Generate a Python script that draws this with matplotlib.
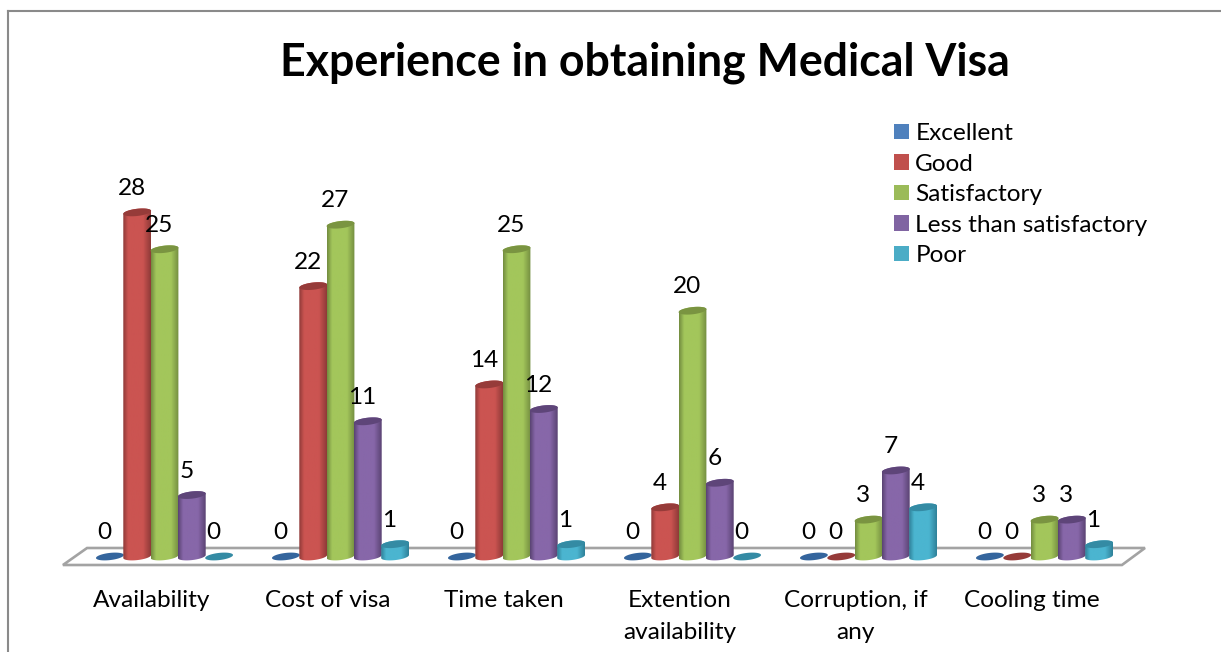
#!/usr/bin/env python3
"""Experience in obtaining Medical Visa, drawn as fake 3D cylinders."""

import matplotlib

matplotlib.use("Agg")
import matplotlib.pyplot as plt
import numpy as np
from matplotlib.colors import LinearSegmentedColormap
from matplotlib.lines import Line2D
from matplotlib.patches import Patch, PathPatch, Polygon
from matplotlib.path import Path

categories = [
    "Availability",
    "Cost of visa",
    "Time taken",
    "Extention\navailability",
    "Corruption, if\nany",
    "Cooling time",
]
series_names = ["Excellent", "Good", "Satisfactory", "Less than satisfactory", "Poor"]
excellent = [0, 0, 0, 0, 0, 0]
good = [28, 22, 14, 4, 0, 0]
satisfactory = [25, 27, 25, 20, 3, 3]
less_than = [5, 11, 12, 6, 7, 3]
poor = [0, 1, 1, 0, 4, 1]
all_series = [excellent, good, satisfactory, less_than, poor]

swatch_colors = ["#4f81bd", "#c0504d", "#9bbb59", "#8064a2", "#4bacc6"]
edge_colors = ["#2f5f93", "#8f3a38", "#738d40", "#5a4373", "#2f8199"]
body_colors = ["#4f81bd", "#cb5451", "#a3c65b", "#8767a9", "#4bb5d0"]
top_colors = ["#34659d", "#963b39", "#7a9441", "#5e4579", "#348ba4"]

W, H = 1221, 652
PX_X = 176.0  # pixels per category
PX_Y = 12.29  # pixels per unit of value
X0, Y0 = 164.5, 556.5  # pixel position of category 0, value 0
AX_TOP, AX_BOTTOM = 110, 575
TEXT_SIZE = 17.6


def cylinder_outline(cx, half_w, value, half_h, tilt):
    t = np.linspace(0, np.pi, 40)
    # lower half of the base, left to right, then upper half of the top, right to left
    x_low = cx - half_w * np.cos(t)
    y_low = -half_h * np.sin(t) - tilt * np.cos(t)
    x_up = cx + half_w * np.cos(t)
    y_up = value + half_h * np.sin(t) + tilt * np.cos(t)
    return np.r_[x_low, x_up], np.r_[y_low, y_up]


def ellipse_outline(cx, half_w, value, half_h, tilt):
    t = np.linspace(0, 2 * np.pi, 80)
    return cx + half_w * np.cos(t), value + half_h * np.sin(t) + tilt * np.cos(t)


def main():
    fig = plt.figure(figsize=(W / 100, H / 100), dpi=100)
    plt.rcParams["font.family"] = ["Lato", "DejaVu Sans"]
    ax = fig.add_axes([0, 1 - AX_BOTTOM / H, 1, (AX_BOTTOM - AX_TOP) / H])
    ax.set_xlim(-X0 / PX_X, (W - X0) / PX_X)
    ax.set_ylim((Y0 - AX_BOTTOM) / PX_Y, (Y0 - AX_TOP) / PX_Y)
    for spine in ax.spines.values():
        spine.set_visible(False)
    ax.set_yticks([])

    # the labels sit a little left of the group centre in the original
    ax.set_xticks(np.arange(len(categories)) - 13 / PX_X)
    ax.set_xticklabels(categories, fontsize=TEXT_SIZE, linespacing=1.7)
    ax.tick_params(axis="x", length=0, pad=10.5)

    # floor plate
    floor_y = 8.5 / PX_Y
    floor = Polygon(
        [(-0.577, -floor_y), (5.44, -floor_y), (5.571, floor_y), (-0.44, floor_y)],
        closed=True,
        facecolor="white",
        edgecolor="#a3a3a3",
        linewidth=1.9,
        zorder=1,
    )
    ax.add_patch(floor)

    half_w = 13.9 / PX_X
    half_h = 3.6 / PX_Y
    tilt = 1.5 / PX_Y
    step = 27.3 / PX_X

    for s, values in enumerate(all_series):
        cmap = LinearSegmentedColormap.from_list(
            f"cyl{s}",
            [
                (0.0, edge_colors[s]),
                (0.18, body_colors[s]),
                (0.72, body_colors[s]),
                (1.0, edge_colors[s]),
            ],
        )
        for c, value in enumerate(values):
            cx = c + (s - 2) * step
            zorder = 2 + s * 0.1
            if value > 0:
                xs, ys = cylinder_outline(cx, half_w, value, half_h, tilt)
                clip = PathPatch(
                    Path(np.column_stack([xs, ys])),
                    facecolor="none",
                    edgecolor="none",
                    zorder=zorder,
                )
                ax.add_patch(clip)
                img = ax.imshow(
                    np.linspace(0, 1, 64)[None, :],
                    cmap=cmap,
                    extent=[cx - half_w, cx + half_w, -1, value + 1],
                    aspect="auto",
                    zorder=zorder,
                )
                img.set_clip_path(clip)
            ex, ey = ellipse_outline(cx, half_w, value, half_h, tilt)
            ax.fill(ex, ey, color=top_colors[s], linewidth=0, zorder=zorder + 0.01)
            ax.annotate(
                str(value),
                (cx, value),
                xytext=(-5.5 * 0.72, 24 * 0.72),
                textcoords="offset points",
                ha="center",
                va="center",
                fontsize=TEXT_SIZE,
                color="black",
                zorder=5,
            )

    ax.set_xlim(-X0 / PX_X, (W - X0) / PX_X)
    ax.set_ylim((Y0 - AX_BOTTOM) / PX_Y, (Y0 - AX_TOP) / PX_Y)

    fig.text(
        644.5 / W,
        1 - 63 / H,
        "Experience in obtaining Medical Visa",
        ha="center",
        va="center",
        fontsize=32.1,
        fontweight="bold",
    )

    handles = [Patch(facecolor=c, edgecolor="none") for c in swatch_colors]
    fig.legend(
        handles,
        series_names,
        loc="upper left",
        bbox_to_anchor=(894 / W, 1 - 123 / H),
        frameon=False,
        fontsize=TEXT_SIZE,
        borderpad=0,
        borderaxespad=0,
        handlelength=0.61,
        handleheight=0.61,
        handletextpad=0.26,
        labelspacing=0.39,
    )

    # chart frame, left and top edges only are in view
    frame = dict(color="#8a8a8a", linewidth=1.5, transform=fig.transFigure)
    fig.add_artist(Line2D([8 / W, 8 / W], [0, 1 - 11 / H], **frame))
    fig.add_artist(Line2D([8 / W, 1], [1 - 11 / H, 1 - 11 / H], **frame))

    fig.savefig("out.png", dpi=100)


if __name__ == "__main__":
    main()
